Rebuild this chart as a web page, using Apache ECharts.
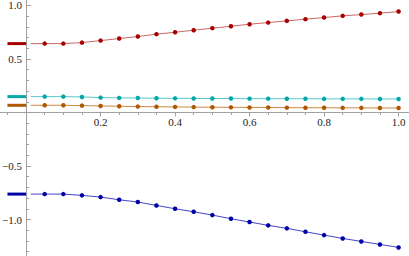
<!DOCTYPE html>
<html>
<head>
<meta charset="utf-8">
<script src="https://cdn.jsdelivr.net/npm/echarts@6/dist/echarts.min.js"></script>
<style>html,body{margin:0;padding:0;background:#fff}#c{width:409px;height:256px}</style>
</head>
<body>
<div id="c"></div>
<script>
var xs = [0.0125,0.05,0.1,0.15,0.2,0.25,0.3,0.35,0.4,0.45,0.5,0.55,0.6,0.65,0.7,0.75,0.8,0.85,0.9,0.95,1.0];
var red    = [0.643,0.643,0.643,0.652,0.671,0.690,0.709,0.731,0.749,0.768,0.787,0.805,0.824,0.839,0.855,0.871,0.886,0.902,0.914,0.927,0.942];
var cyan   = [0.148,0.148,0.148,0.145,0.139,0.136,0.135,0.133,0.132,0.131,0.130,0.130,0.129,0.129,0.128,0.128,0.127,0.127,0.127,0.126,0.126];
var orange = [0.067,0.067,0.067,0.064,0.061,0.058,0.055,0.053,0.052,0.050,0.049,0.048,0.047,0.046,0.045,0.044,0.044,0.043,0.043,0.042,0.042];
var blue   = [-0.762,-0.762,-0.762,-0.774,-0.790,-0.815,-0.836,-0.868,-0.899,-0.927,-0.958,-0.992,-1.023,-1.054,-1.082,-1.114,-1.145,-1.176,-1.204,-1.232,-1.260];
var xMajor = [0.2,0.4,0.6,0.8,1.0];
var xMinor = [-0.05,0.05,0.1,0.15,0.25,0.3,0.35,0.45,0.5,0.55,0.65,0.7,0.75,0.85,0.9,0.95];
var yMajor = [-1.0,-0.5,0.5,1.0];
var yMinor = [-1.3,-1.2,-1.1,-0.9,-0.8,-0.7,-0.6,-0.4,-0.3,-0.2,-0.1,0.1,0.2,0.3,0.4,0.6,0.7,0.8,0.9];
var startX = [-0.05, 0];

var styles = [
  {d: red, mark: '#a80000', line: '#cc6666'},
  {d: cyan, mark: '#00a8a8', line: '#5cc8c8'},
  {d: orange, mark: '#b05800', line: '#cc8844'},
  {d: blue, mark: '#0000a8', line: '#4444cc'}
];

function fmt(v){ return (v < 0 ? '\u2212' : '') + Math.abs(v).toFixed(1); }

var series = [];
styles.forEach(function(s){
  series.push({
    type: 'line', xAxisIndex: 0, yAxisIndex: 0,
    data: xs.map(function(x,i){
      return i === 0 ? {value:[x, s.d[i]], symbol:'none'} : [x, s.d[i]];
    }),
    symbol: 'circle', symbolSize: 4.5, smooth: false,
    lineStyle: {color: s.line, width: 1},
    itemStyle: {color: s.mark},
    silent: true, animation: false, z: 3
  });
  series.push({
    type: 'line', xAxisIndex: 0, yAxisIndex: 0,
    data: startX.map(function(x){ return [x, s.d[0]]; }),
    symbol: 'none',
    lineStyle: {color: s.mark, width: 3},
    silent: true, animation: false, z: 3
  });
});

var FF = "'Liberation Serif', 'Times New Roman', serif";
var AX = '#a0a0a0';
function xAxes(off){
  return [
    {type: 'value', min: -0.07, max: 1.028, position: 'bottom', offset: off,
     axisLine: {show: true, onZero: false, lineStyle: {color: AX, width: 1}},
     axisTick: {show: true, customValues: xMajor, length: 4, lineStyle: {color: AX}},
     axisLabel: {show: true, customValues: xMajor, margin: 4, formatter: fmt, fontFamily: FF, fontSize: 11, color: '#222'},
     splitLine: {show: false}},
    {type: 'value', min: -0.07, max: 1.028, position: 'bottom', offset: off,
     axisLine: {show: false, onZero: false},
     axisTick: {show: true, customValues: xMinor, length: 2.5, lineStyle: {color: AX}},
     axisLabel: {show: false}, splitLine: {show: false}}
  ];
}
function yAxes(off){
  return [
    {type: 'value', min: -1.34, max: 1.05, position: 'left', offset: off,
     axisLine: {show: true, onZero: false, lineStyle: {color: AX, width: 1}},
     axisTick: {show: true, inside: true, customValues: yMajor, length: 5, lineStyle: {color: AX}},
     axisLabel: {show: true, customValues: yMajor, margin: 4, formatter: fmt, fontFamily: FF, fontSize: 11, color: '#222'},
     splitLine: {show: false}},
    {type: 'value', min: -1.34, max: 1.05, position: 'left', offset: off,
     axisLine: {show: false, onZero: false},
     axisTick: {show: true, inside: true, customValues: yMinor, length: 3, lineStyle: {color: AX}},
     axisLabel: {show: false}, splitLine: {show: false}}
  ];
}

var chart = echarts.init(document.getElementById('c'), null, {renderer: 'svg'});
var gridOpt = {left: 0, right: 0, top: 0, bottom: 0, containLabel: false, outerBoundsMode: 'none'};
chart.setOption({animation: false, textStyle: {fontFamily: FF}, grid: gridOpt, xAxis: xAxes(0), yAxis: yAxes(0), series: series});
// place the axes where the other axis is zero, using the library's own scales
var origin = chart.convertToPixel({xAxisIndex: 0, yAxisIndex: 0}, [0, 0]);
var H = chart.getHeight();
chart.setOption({xAxis: xAxes(-(H - origin[1])), yAxis: yAxes(-origin[0])});
</script>
</body>
</html>
